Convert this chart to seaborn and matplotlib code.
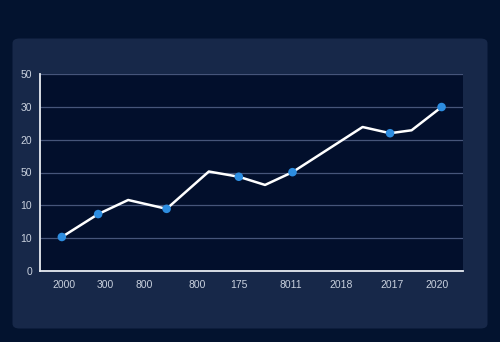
import matplotlib
matplotlib.use("Agg")
import matplotlib.pyplot as plt
from matplotlib.patches import FancyBboxPatch
import seaborn as sns
import pandas as pd

# Series: position along the axis and value
x_pos = [5.1, 13.7, 20.8, 29.9, 39.9, 47.0, 53.2, 59.7, 76.3, 82.8, 87.9, 95.0]
values = [10.3, 17.3, 21.6, 18.9, 30.3, 28.7, 26.2, 30.1, 43.9, 42.0, 42.9, 50.0]
# points that carry a dot
marked = [True, True, False, True, False, True, False, True, False, True, False, True]

# Axis ticks
x_tick_pos = [5.6, 15.3, 24.7, 37.1, 47.1, 59.4, 71.1, 83.2, 94.0]
x_tick_labels = ["2000", "300", "800", "800", "175", "8011", "2018", "2017", "2020"]
y_tick_pos = [0, 10, 20, 30, 40, 50, 60]
y_tick_labels = ["0", "10", "10", "50", "20", "30", "50"]

df = pd.DataFrame({"x": x_pos, "y": values, "marked": marked})

BG = "#03132f"
CARD = "#172849"
PLOT = "#020f2c"
GRID = "#46557a"
TEXT = "#c9d1de"

sns.set_theme(style="dark")
plt.rcParams["font.family"] = ["Liberation Sans", "DejaVu Sans"]

fig = plt.figure(figsize=(5.0, 3.42), dpi=100, facecolor=BG)

# rounded card behind the chart
card = FancyBboxPatch((12.5 / 500, 1 - 328.5 / 342), (475 / 500), (290 / 342),
                      boxstyle="round,pad=0,rounding_size=0.014",
                      transform=fig.transFigure, facecolor=CARD, edgecolor="none",
                      zorder=-5)
fig.patches.append(card)

ax = fig.add_axes([40.3 / 500, 1 - 270.7 / 342, (462.7 - 40.3) / 500, (270.7 - 74.3) / 342])
ax.set_zorder(2)
ax.set_facecolor(PLOT)

sns.lineplot(data=df, x="x", y="y", ax=ax, color="white", linewidth=1.8,
             zorder=3, legend=False)
sns.scatterplot(data=df[df["marked"]], x="x", y="y", ax=ax, color="#2d8de0",
                s=38, edgecolor="none", zorder=4, legend=False)

ax.set_xlim(0, 100)
ax.set_ylim(0, 60)
ax.set_xticks(x_tick_pos)
ax.set_xticklabels(x_tick_labels)
ax.set_yticks(y_tick_pos)
ax.set_yticklabels(y_tick_labels)
ax.set_xlabel("")
ax.set_ylabel("")

ax.grid(False)
ax.yaxis.grid(True, color=GRID, linewidth=0.9)
ax.xaxis.grid(False)
ax.set_axisbelow(True)

for side in ["top", "right"]:
    ax.spines[side].set_visible(False)
for side in ["left", "bottom"]:
    ax.spines[side].set_visible(True)
    ax.spines[side].set_color("#e8ecf2")
    ax.spines[side].set_linewidth(1.3)

ax.tick_params(axis="both", length=0, labelsize=7.5, colors=TEXT)
ax.tick_params(axis="x", pad=7)
ax.tick_params(axis="y", pad=6)

fig.savefig("out.png", dpi=100, facecolor=BG)
